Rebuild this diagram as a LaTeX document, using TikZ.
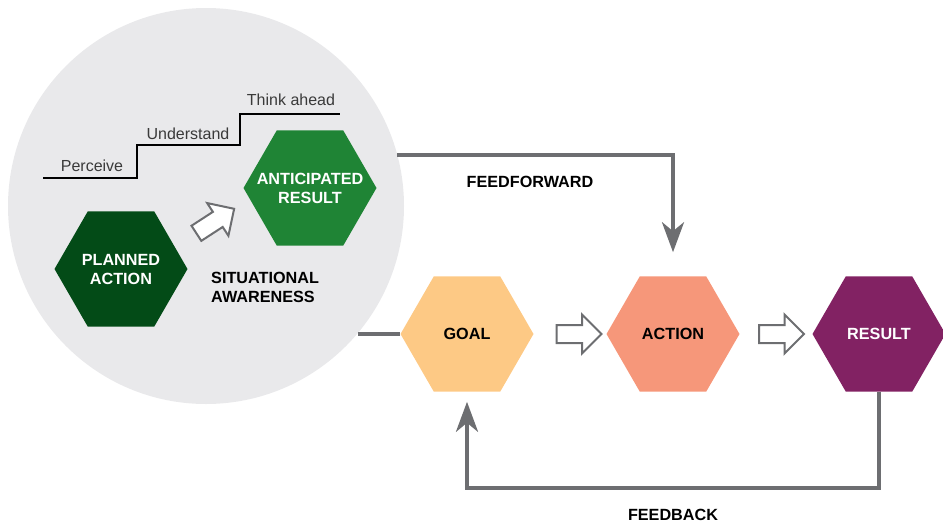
\documentclass[tikz,border=0pt]{standalone}
\usepackage{fontspec}
\setmainfont{Liberation Sans}
\usetikzlibrary{shapes.geometric, shapes.arrows, arrows.meta, positioning}

\definecolor{circgray}{HTML}{E9E9EB}
\definecolor{linegray}{HTML}{6D6E71}
\definecolor{stairgray}{HTML}{3A3A3A}
\definecolor{darkgreen}{HTML}{034B17}
\definecolor{midgreen}{HTML}{1F8435}
\definecolor{goalcol}{HTML}{FDC985}
\definecolor{actcol}{HTML}{F6977A}
\definecolor{rescol}{HTML}{822263}

\begin{document}
\begin{tikzpicture}[x=1pt, y=-1pt,
  hexa/.style={regular polygon, regular polygon sides=6,
    minimum size=133pt, inner sep=-20pt, align=center,
    font=\fontsize{16.2}{19}\selectfont\bfseries},
  hollow/.style={single arrow, draw=linegray, line width=2pt, fill=white,
    inner xsep=0pt, inner ysep=8pt, single arrow head extend=10.5pt, minimum height=45pt},
  conn/.style={draw=linegray, line width=4pt},
  lbl/.style={font=\fontsize{16.2}{19}\selectfont\bfseries, align=left, inner sep=0pt},
  stairtxt/.style={font=\fontsize{16}{19}\selectfont, text=stairgray, anchor=base, inner sep=0pt}]
  %tikz  situational awareness, feedforward and feedback
  \useasboundingbox (0,0) rectangle (943,523);
  \node[circle, fill=circgray, minimum size=396pt, inner sep=0pt] (sa) at (206,206) {};

  % staircase
  \draw[line width=1.5pt] (43,178) -- (137,178) -- (137,145) -- (240,145) -- (240,114) -- (340,114);
  \node[stairtxt] (perc) at (92,171) {Perceive};
  \node[stairtxt] (unde) at (188,139) {Understand};
  \node[stairtxt] (thin) at (291,105) {Think ahead};

  \node[hexa, fill=darkgreen, text=white] (plan) at (121,269) {PLANNED\\ACTION};
  \node[hexa, fill=midgreen, text=white] (anti) at (310,188) {ANTICIPATED\\RESULT};
  \node[hollow, rotate=33] (pa) at (211.5,223.5) {};
  \node[lbl, anchor=west] (sitaw) at (211,287) {SITUATIONAL\\AWARENESS};

  \node[hexa, fill=goalcol] (goal) at (467,334) {GOAL};
  \node[hexa, fill=actcol] (act) at (673,334) {ACTION};
  \node[hexa, fill=rescol, text=white] (res) at (879,334) {RESULT};
  \node[hollow] (ga) at (574.5,334) {};
  \node[hollow] (ar) at (777,334) {};

  \draw[conn] (goal.west) -- (goal.west -| sa.-40);
  \draw[conn, -{Stealth[length=30pt, width=22pt, inset=9pt]}, shorten >=24pt] (sa.15) -| (act.north);
  \draw[conn, -{Stealth[length=30pt, width=22pt, inset=9pt]}, shorten >=10pt]
    (res.south) -- ++(0,96.5) -| (goal.south);
  \node[lbl] (ff) at (530,182) {FEEDFORWARD};
  \node[lbl] (fb) at (673,515) {FEEDBACK};
\end{tikzpicture}
\end{document}
